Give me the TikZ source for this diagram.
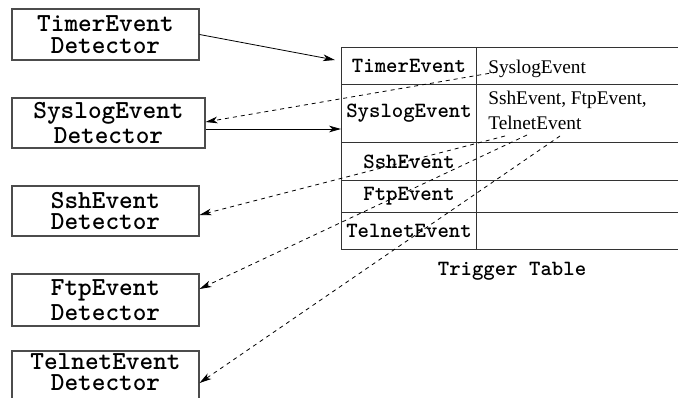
\documentclass[tikz,border=0pt]{standalone}
\usepackage{fontspec}
\setmainfont{Liberation Serif}
\usetikzlibrary{arrows.meta}
\tikzset{
detector/.style={draw=black!70, line width=0.8pt, align=center, inner sep=0pt,
  font=\ttfamily\bfseries\fontsize{19.5}{16}\selectfont},
cell/.style={draw=black!80, line width=0.8pt, inner sep=0pt, anchor=north west,
  font=\ttfamily\bfseries\fontsize{16.3}{18}\selectfont},
trig/.style={inner sep=0pt, align=left, font=\fontsize{14.5}{18.75}\selectfont},
feed/.style={-{Stealth[length=9pt,width=5pt,inset=2.5pt]}, line width=0.6pt},
fire/.style={feed, dash pattern=on 3pt off 3pt}
}

\begin{document}
\begin{tikzpicture}[x=0.75pt,y=-0.75pt]
\useasboundingbox (0,0) rectangle (678,397);

% detectors
\node[detector, minimum width=187*0.75pt, minimum height=51*0.75pt] (timerDet) at (105.5,34.5) {TimerEvent\\Detector};
\node[detector, minimum width=193*0.75pt, minimum height=50*0.75pt] (syslogDet) at (108.5,123) {SyslogEvent\\[1pt]Detector};
\node[detector, minimum width=187*0.75pt, minimum height=50*0.75pt] (sshDet) at (105.5,211) {SshEvent\\Detector};
\node[detector, minimum width=187*0.75pt, minimum height=52*0.75pt] (ftpDet) at (105.5,300) {FtpEvent\\[2pt]Detector};
\node[detector, minimum width=187*0.75pt, minimum height=56*0.75pt, text depth=10pt] (telnetDet) at (105.5,379) {TelnetEvent\\Detector};

% trigger table
\node[cell, minimum width=135*0.75pt, minimum height=37*0.75pt] (timerRow) at (341,47) {TimerEvent};
\node[cell, minimum width=135*0.75pt, minimum height=58*0.75pt] (syslogRow) at (341,84) {SyslogEvent};
\node[cell, minimum width=135*0.75pt, minimum height=38*0.75pt] (sshRow) at (341,142) {SshEvent};
\node[cell, minimum width=135*0.75pt, minimum height=32*0.75pt] (ftpRow) at (341,180) {FtpEvent};
\node[cell, minimum width=135*0.75pt, minimum height=37*0.75pt] (telnetRow) at (341,212) {TelnetEvent};
\node[cell, minimum width=212*0.75pt, minimum height=37*0.75pt] (timerTrig) at (476,47) {};
\node[cell, minimum width=212*0.75pt, minimum height=58*0.75pt] (syslogTrig) at (476,84) {};
\node[cell, minimum width=212*0.75pt, minimum height=38*0.75pt] (sshTrig) at (476,142) {};
\node[cell, minimum width=212*0.75pt, minimum height=32*0.75pt] (ftpTrig) at (476,180) {};
\node[cell, minimum width=212*0.75pt, minimum height=37*0.75pt] (telnetTrig) at (476,212) {};

\node[trig, anchor=base west] (timerFires) at (488,73) {SyslogEvent};
\node[trig, anchor=north west] (syslogFires) at (488,91) {SshEvent, FtpEvent,\\TelnetEvent};
\node[cell, draw=none, anchor=base] (tableName) at (512,275) {Trigger Table};

% where the dashed arrows leave the table
\coordinate (fromSyslog) at (497,72);
\coordinate (fromSsh) at (505,136);
\coordinate (fromFtp) at (527,135);
\coordinate (fromTelnet) at (560,136);
\coordinate (timerIn) at (335,60);

\draw[feed] (timerDet.east) -- (timerIn);
\draw[feed] ([yshift=-4.5pt]syslogDet.east) coordinate (syslogOut) -- (syslogOut -| syslogRow.west);

\draw[fire] (fromSyslog) -- ([yshift=0.75pt]syslogDet.east);
\draw[fire] (fromSsh) -- ([yshift=-3pt]sshDet.east);
\draw[fire] (fromFtp) -- ([yshift=8.25pt]ftpDet.east);
\draw[fire] (fromTelnet) -- ([yshift=-3pt]telnetDet.east);

\end{tikzpicture}
\end{document}
